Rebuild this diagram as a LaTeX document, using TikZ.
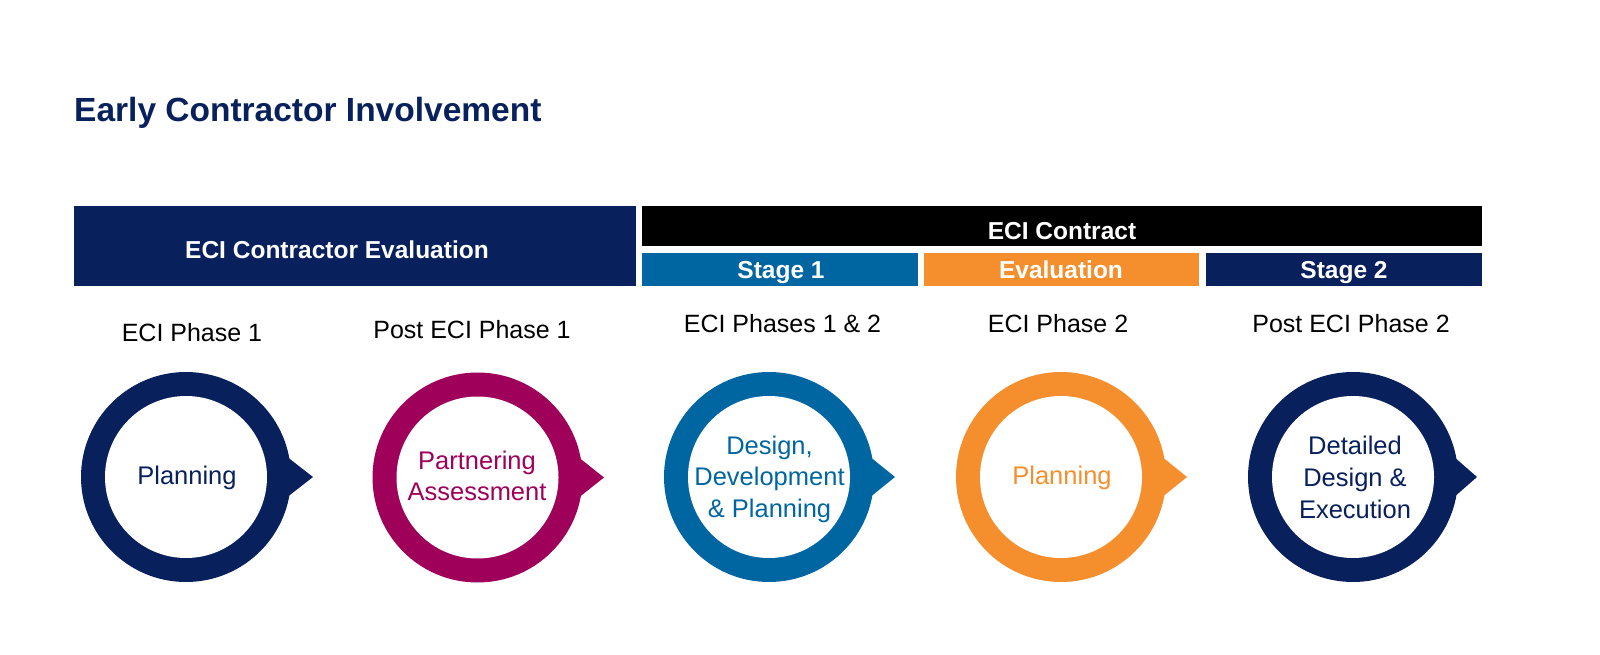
\documentclass[tikz,border=0pt]{standalone}
\usepackage{fontspec}
\setmainfont{Liberation Sans}
\definecolor{ecinavy}{HTML}{08205C}
\definecolor{eciblue}{HTML}{0066A1}
\definecolor{eciorange}{HTML}{F58F2D}
\definecolor{ecimagenta}{HTML}{9E005A}
\begin{document}
\begin{tikzpicture}[x=1pt,y=-1pt,
		bartext/.style={text=white,font=\fontsize{24.5}{29}\selectfont\bfseries,anchor=base,inner sep=0pt},
		phasetext/.style={text=black,font=\fontsize{25}{30}\selectfont,anchor=base,inner sep=0pt},
		steptext/.style={font=\fontsize{25.5}{31.5}\selectfont,align=center,inner sep=0pt}]
			\useasboundingbox (0,0) rectangle (1600,655);
			\node[anchor=base west,inner sep=0pt,text=ecinavy,font=\fontsize{33.5}{40}\selectfont\bfseries] (title) at (74,122) {Early Contractor Involvement};
			\fill[ecinavy] (74,206) rectangle (636,286);
			\fill[black] (642,206) rectangle (1482,246);
			\fill[eciblue] (642,253) rectangle (918,286);
			\fill[eciorange] (923.5,253) rectangle (1199,286);
			\fill[ecinavy] (1206,253) rectangle (1482,286);
			\node[bartext] (evalbar) at (337,258.5) {ECI Contractor Evaluation};
			\node[bartext] (contract) at (1062,239) {ECI Contract};
			\node[bartext] (stage1) at (781,278.3) {Stage 1};
			\node[bartext] (evaluation) at (1061,278.3) {Evaluation};
			\node[bartext] (stage2) at (1344,278.3) {Stage 2};
			\node[phasetext] (phase1) at (192,341.7) {ECI Phase 1};
			\node[phasetext] (postphase1) at (472,338.3) {Post ECI Phase 1};
			\node[phasetext] (phases12) at (782.5,332.5) {ECI Phases 1 \& 2};
			\node[phasetext] (phase2) at (1058,332.7) {ECI Phase 2};
			\node[phasetext] (postphase2) at (1351,332.7) {Post ECI Phase 2};
			\fill[ecinavy] (186,477) circle (105);
			\fill[ecinavy] (286,456) -- (313,477) -- (286,498) -- cycle;
			\fill[white] (186,477) circle (81);
			\node[steptext,text=ecinavy] (planning) at (187,478) {Planning};
			\fill[ecimagenta] (477.5,477.5) circle (105);
			\fill[ecimagenta] (577.5,456.5) -- (604,477.5) -- (577.5,498.5) -- cycle;
			\fill[white] (477.5,477.5) circle (81);
			\node[steptext,text=ecimagenta] (partnering) at (477,476) {Partnering\\Assessment};
			\fill[eciblue] (769,477) circle (105);
			\fill[eciblue] (869,456) -- (895,477) -- (869,498) -- cycle;
			\fill[white] (769,477) circle (81);
			\node[steptext,text=eciblue] (design) at (769.5,479) {Design,\\Development\\\& Planning};
			\fill[eciorange] (1061,477) circle (105);
			\fill[eciorange] (1161,456) -- (1187,477) -- (1161,498) -- cycle;
			\fill[white] (1061,477) circle (81);
			\node[steptext,text=eciorange] (planning2) at (1062,478) {Planning};
			\fill[ecinavy] (1353,477) circle (105);
			\fill[ecinavy] (1453,456) -- (1477,477) -- (1453,498) -- cycle;
			\fill[white] (1353,477) circle (81);
			\node[steptext,text=ecinavy,font=\fontsize{25.5}{32}\selectfont] (detailed) at (1355,477) {Detailed\\Design \&\\Execution};
		\end{tikzpicture}
\end{document}
